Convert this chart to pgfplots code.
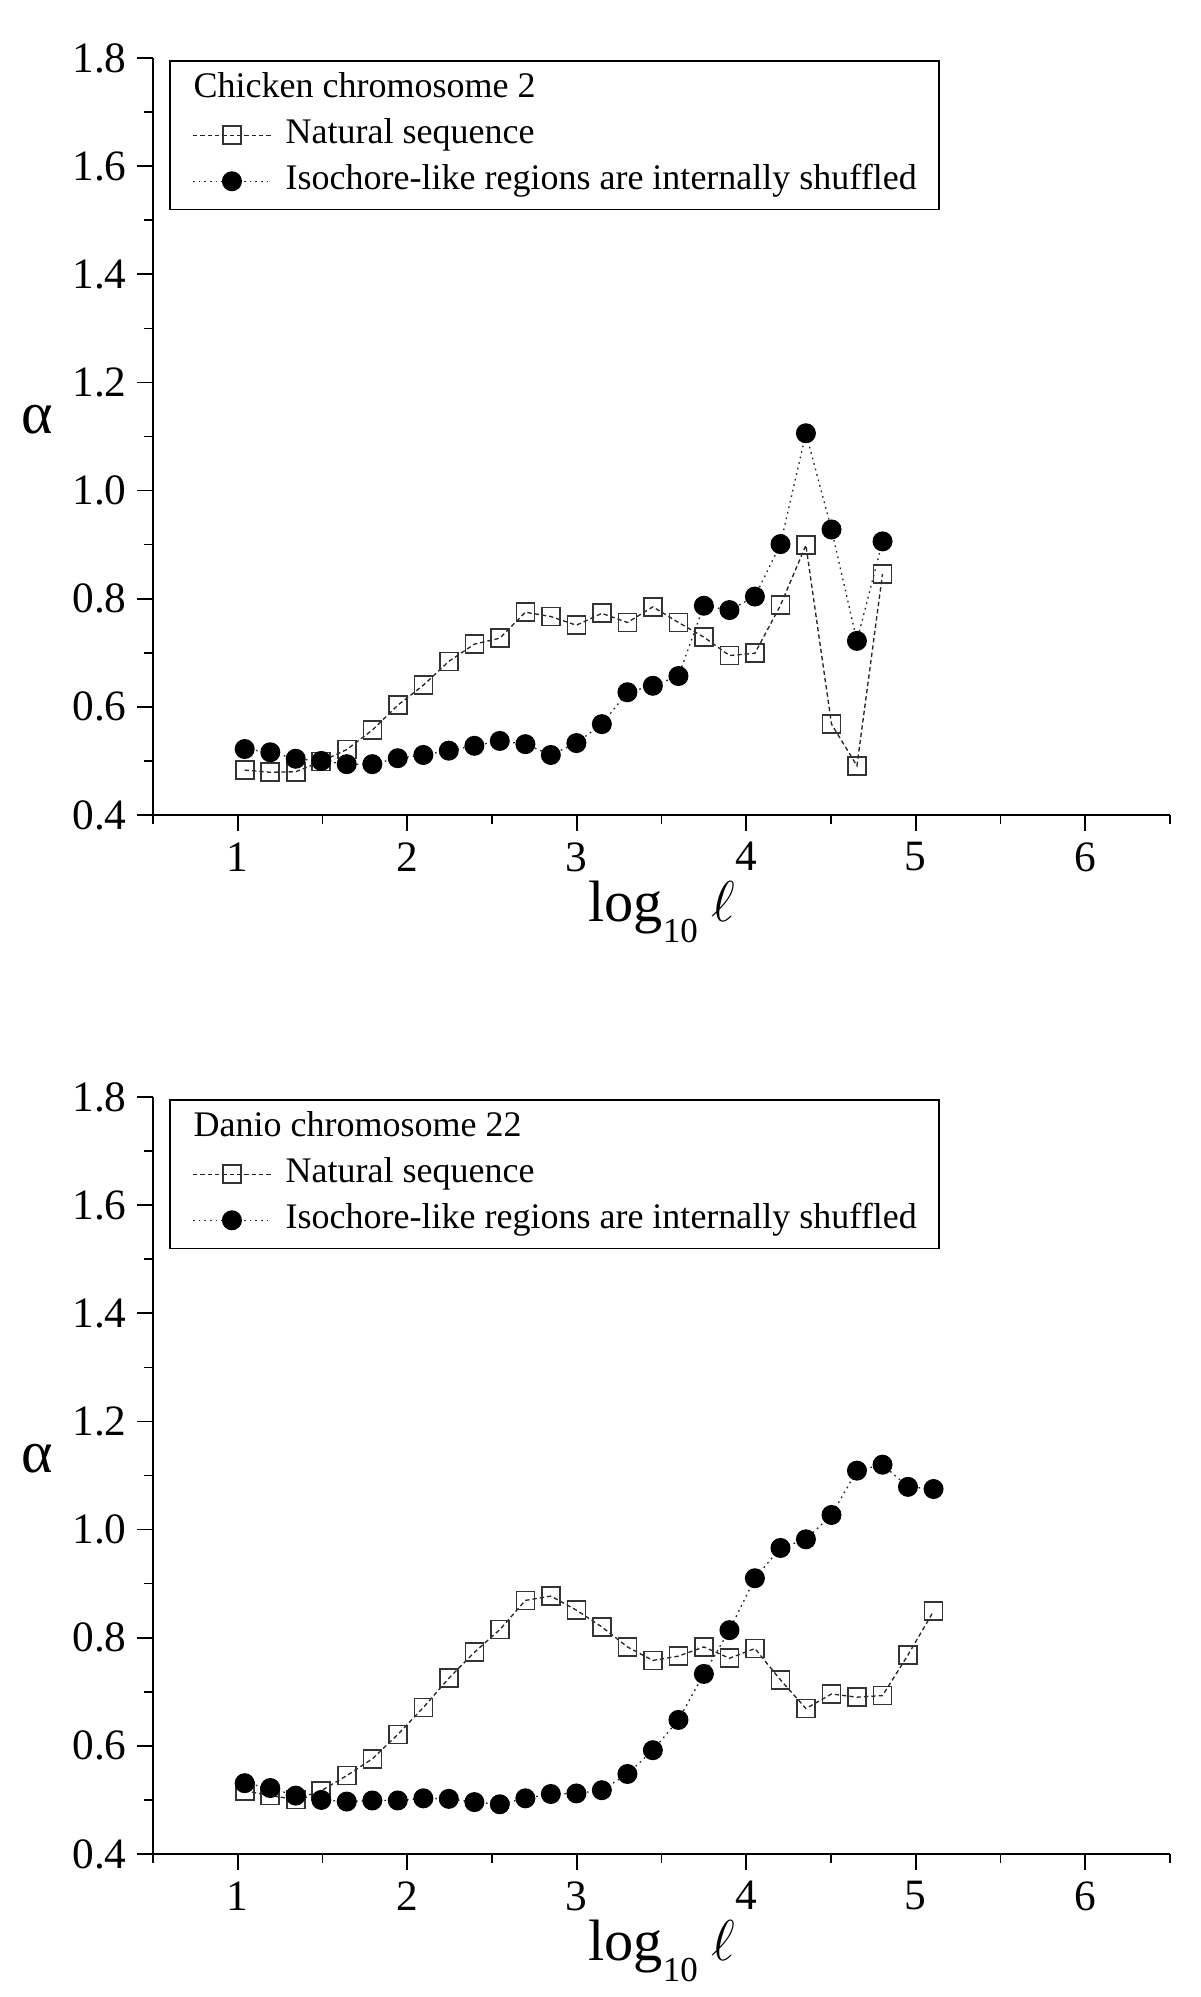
\documentclass[border=0pt]{standalone}
\usepackage{fontspec}
\setmainfont{Liberation Serif}
\usepackage{pgfplots}
\pgfplotsset{compat=1.18}
\pgfplotsset{
  myaxis/.style={
    scale only axis, width=305.1pt, height=227.1pt,
    xmin=0.5, xmax=6.5, ymin=0.4, ymax=1.8,
    axis x line*=bottom, axis y line*=left,
    axis line style={line width=0.5pt, black},
    tick align=outside,
    xtick={1,2,3,4,5,6},
    xticklabels={1,2,3,4,5,6},
    minor xtick={0.5,1.5,2.5,3.5,4.5,5.5,6.5},
    ytick={0.4,0.6,0.8,1.0,1.2,1.4,1.6,1.8},
    yticklabels={0.4,0.6,0.8,1.0,1.2,1.4,1.6,1.8},
    minor ytick={0.5,0.7,0.9,1.1,1.3,1.5,1.7},
    major tick length=4.7pt, minor tick length=2.6pt,
    every tick/.append style={black, line width=0.5pt},
    tick label style={font=\fontsize{13}{15}\selectfont},
    yticklabel style={inner xsep=3pt},
    xlabel={log\raisebox{-6.4pt}{\fontsize{10.5}{12}\selectfont 10}\hspace{4pt}$\ell$},
    xlabel style={at={(axis description cs:0.5,-0.086)}, anchor=north, inner sep=0pt, font=\fontsize{17.5}{20}\selectfont},
    ylabel={α},
    ylabel style={at={(axis description cs:-0.114,0.522)}, rotate=-90, anchor=center, inner sep=0pt, font=\fontsize{18}{20}\selectfont},
    legend style={at={(axis description cs:0.016,0.997)}, anchor=north west,
      draw=black, line width=0.4pt, fill=white,
      font=\fontsize{10.8}{12}\selectfont,
      inner xsep=4.5pt, inner ysep=1.6pt, column sep=2pt,
      nodes={inner sep=2.2pt, text height=7.2pt, text depth=2.2pt},
      cells={anchor=west}},
    legend image code/.code={\path (-2.2pt,0pt); \draw[mark repeat=2,mark phase=2,##1] plot coordinates {(0pt,0pt) (11.7pt,0pt) (23.4pt,0pt)};},
  },
  natstyle/.style={black!85, line width=0.4pt, dash pattern=on 1.3pt off 0.9pt,
    mark=square, mark size=2.7pt, mark options={solid, fill=white, draw=black!80, line width=0.5pt}},
  shufstyle/.style={black!85, line width=0.4pt, dash pattern=on 0.5pt off 1.2pt,
    mark=*, mark size=2.8pt, mark options={solid, fill=black, draw=black}},
}
\begin{document}
\begin{tikzpicture}
\useasboundingbox (-45.9pt,-354.6pt) rectangle (314.1pt,244.5pt);
% ---------------- top panel ----------------
\begin{axis}[myaxis, at={(0pt,0pt)}, anchor=south west]
\addlegendimage{empty legend}
\addlegendentry{\hspace*{-27.6pt}Chicken chromosome 2}
\addplot[natstyle] coordinates {
(1.041,0.483) (1.192,0.479) (1.342,0.480) (1.493,0.499) (1.643,0.521)
(1.794,0.557) (1.944,0.603) (2.095,0.640) (2.245,0.684) (2.396,0.716)
(2.546,0.727) (2.697,0.775) (2.847,0.767) (2.998,0.751) (3.148,0.773)
(3.299,0.756) (3.449,0.785) (3.600,0.756) (3.750,0.729) (3.901,0.695)
(4.051,0.699) (4.202,0.788) (4.352,0.899) (4.503,0.568) (4.653,0.491)
(4.804,0.846)};
\addlegendentry{Natural sequence}
\addplot[shufstyle] coordinates {
(1.041,0.522) (1.192,0.516) (1.342,0.504) (1.493,0.500) (1.643,0.494)
(1.794,0.494) (1.944,0.505) (2.095,0.511) (2.245,0.519) (2.396,0.528)
(2.546,0.537) (2.697,0.531) (2.847,0.511) (2.998,0.533) (3.148,0.568)
(3.299,0.627) (3.449,0.639) (3.600,0.657) (3.750,0.787) (3.901,0.779)
(4.051,0.804) (4.202,0.901) (4.352,1.106) (4.503,0.928) (4.653,0.722)
(4.804,0.906)};
\addlegendentry{Isochore-like regions are internally shuffled}
\end{axis}
% ---------------- bottom panel ----------------
\begin{axis}[myaxis, at={(0pt,-311.7pt)}, anchor=south west]
\addlegendimage{empty legend}
\addlegendentry{\hspace*{-27.6pt}Danio chromosome 22}
\addplot[natstyle] coordinates {
(1.041,0.517) (1.192,0.508) (1.342,0.501) (1.493,0.517) (1.643,0.545)
(1.794,0.576) (1.944,0.621) (2.095,0.671) (2.245,0.725) (2.396,0.773)
(2.546,0.815) (2.697,0.869) (2.847,0.877) (2.998,0.851) (3.148,0.820)
(3.299,0.783) (3.449,0.758) (3.600,0.766) (3.750,0.783) (3.901,0.762)
(4.051,0.780) (4.202,0.722) (4.352,0.669) (4.503,0.696) (4.653,0.690)
(4.804,0.693) (4.954,0.768) (5.105,0.849)};
\addlegendentry{Natural sequence}
\addplot[shufstyle] coordinates {
(1.041,0.531) (1.192,0.522) (1.342,0.508) (1.493,0.500) (1.643,0.497)
(1.794,0.499) (1.944,0.499) (2.095,0.503) (2.245,0.502) (2.396,0.496)
(2.546,0.492) (2.697,0.503) (2.847,0.511) (2.998,0.512) (3.148,0.518)
(3.299,0.548) (3.449,0.592) (3.600,0.648) (3.750,0.733) (3.901,0.814)
(4.051,0.910) (4.202,0.966) (4.352,0.982) (4.503,1.027) (4.653,1.109)
(4.804,1.120) (4.954,1.079) (5.105,1.075)};
\addlegendentry{Isochore-like regions are internally shuffled}
\end{axis}
\end{tikzpicture}
\end{document}
